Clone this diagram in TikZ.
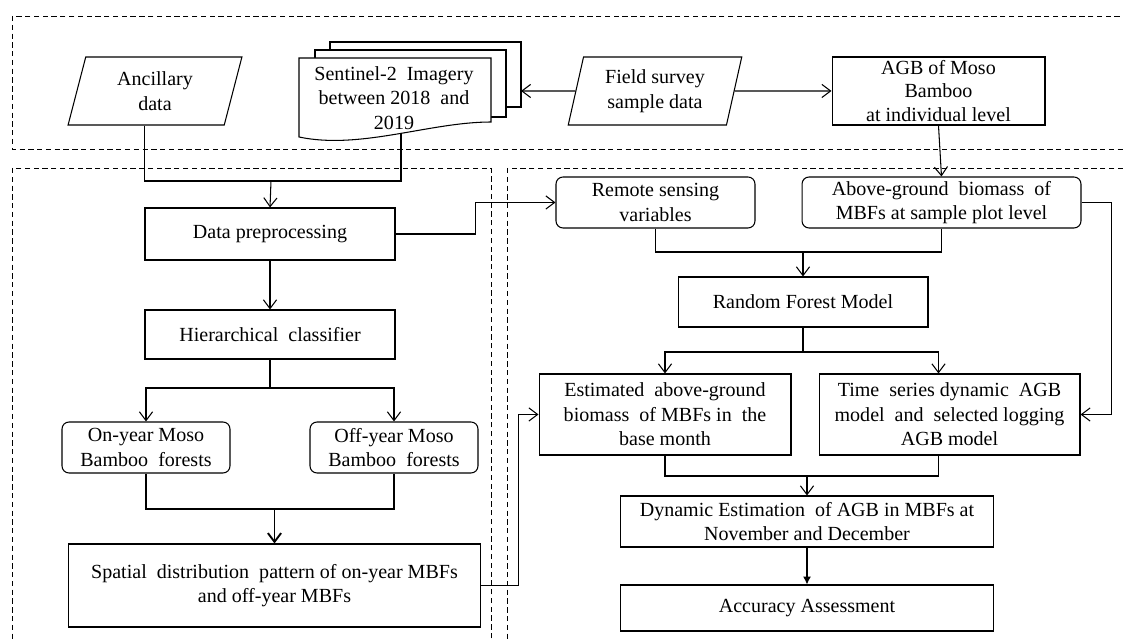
\documentclass[tikz,border=0pt]{standalone}
\usepackage{fontspec}
\setmainfont{Liberation Serif}
\usetikzlibrary{shapes.geometric,arrows.meta}

\begin{document}
\begin{tikzpicture}[x=0.02cm,y=-0.02cm,
  font=\fontsize{11.4}{14}\selectfont,
  line width=0.6pt,
  box/.style={draw,align=center,inner sep=0pt},
  rbox/.style={box,rounded corners=4pt},
  io/.style={draw,trapezium,trapezium left angle=76,trapezium right angle=104,
    trapezium stretches=true,align=center,inner sep=0pt},
  arr/.style={-{Straight Barb[length=5pt,width=7.5pt]}},
  zone/.style={dash pattern=on 3pt off 2pt,line width=0.5pt}]

  \useasboundingbox (0,0) rectangle (1123,641);

  % dashed zones
  \draw[zone] (12,16) rectangle (1140,149);
  \draw[zone] (12,168) rectangle (491,660);
  \draw[zone] (507,168) rectangle (1140,660);

  % stack of images
  \draw[fill=white] (330,42) rectangle (521,107);
  \draw[fill=white] (315,50) rectangle (506,117);
  \draw[fill=white] (299,58) -- (491,58) -- (491,122)
    .. controls (430,122) and (360,150) .. (299,137) -- cycle;
  \node[align=center] (sent) at (394,98) {Sentinel-2 \ Imagery\\between 2018 \ and\\2019};
  \coordinate (sentbot) at (401,134);
  \coordinate (sentrt) at (521,91);

  % top row
  \node[io,minimum width=3.48cm,minimum height=1.36cm] (anc) at (155,91) {Ancillary\\data};
  \node[io,minimum width=3.48cm,minimum height=1.36cm] (field) at (655,91) {Field survey\\sample data};
  \node[box,minimum width=4.26cm,minimum height=1.36cm,
    font=\fontsize{11.4}{13.5}\selectfont] (agb) at (938.5,91) {AGB of Moso\\Bamboo\\at individual level};

  % left part
  \node[box,minimum width=5cm,minimum height=1.04cm] (datap) at (270,234) {Data preprocessing};
  \node[box,minimum width=5cm,minimum height=0.98cm] (hier) at (270,334.5) {Hierarchical \ classifier};
  \node[rbox,minimum width=3.36cm,minimum height=1.02cm] (onyr) at (146,447.5) {On-year Moso\\Bamboo \ forests};
  \node[rbox,minimum width=3.36cm,minimum height=1.02cm] (offyr) at (394,447.5) {Off-year Moso\\Bamboo \ forests};
  \node[box,minimum width=8.26cm,minimum height=1.66cm] (spat) at (274.5,585.5)
    {Spatial \ distribution \ pattern of on-year MBFs\\and off-year MBFs};

  % right part
  \node[rbox,minimum width=3.98cm,minimum height=1.02cm] (remote) at (655.5,202.5) {Remote sensing\\variables};
  \node[rbox,minimum width=5.58cm,minimum height=1.02cm] (abvg) at (941.5,202.5) {Above-ground \ biomass \ of\\MBFs at sample plot level};
  \node[box,minimum width=5cm,minimum height=1cm] (rf) at (803,302) {Random Forest Model};
  \node[box,minimum width=5.04cm,minimum height=1.62cm] (est) at (665,414.5)
    {Estimated \ above-ground\\biomass \ of MBFs in \ the\\base month};
  \node[box,minimum width=5.22cm,minimum height=1.62cm] (tser) at (949.5,414.5)
    {Time \ series dynamic \ AGB\\model \ and \ selected logging\\AGB model};
  \node[box,minimum width=7.48cm,minimum height=1.02cm] (dyn) at (807,521.5)
    {Dynamic Estimation \ of AGB in MBFs at\\November and December};
  \node[box,minimum width=7.48cm,minimum height=0.92cm] (acc) at (807,608) {Accuracy Assessment};

  \coordinate (j1) at (271,181);
  \coordinate (j2) at (803,252);
  \coordinate (j3) at (803,352);
  \coordinate (j4) at (807,476);
  \coordinate (j5) at (270,388);
  \coordinate (j6) at (274.5,509);

  % connectors
  \draw (anc.south -| datap.west) |- (j1) -| (sentbot);
  \draw[arr] (j1) -- (datap.north);
  \draw[arr] (field.west) -- (sentrt);
  \draw[arr] (field.east) -- (agb.west);
  \draw[arr] (agb.south) -- (abvg.north);
  \draw[arr] (datap.east) -- ++(80,0) |- (remote.west);
  \draw[arr] (datap.south) -- (hier.north);
  \draw (hier.south) -- (j5);
  \draw[arr] (j5) -| (onyr.north);
  \draw[arr] (j5) -| (offyr.north);
  \draw (onyr.south) |- (j6) -| (offyr.south);
  \draw[arr,line width=1.1pt] (j6) -- (spat.north);
  \draw[arr] (spat.east) -- ++(37,0) |- (est.west);
  \draw (remote.south) |- (j2) -| (abvg.south);
  \draw[arr] (j2) -- (rf.north);
  \draw[line width=1.1pt] (rf.south) -- (j3);
  \draw[arr] (j3) -| (est.north);
  \draw[arr] (j3) -| (agb.south |- tser.north);
  \draw[arr] (abvg.east) -- ++(30,0) |- (tser.east);
  \draw (est.south) |- (j4) -| (agb.south |- tser.south);
  \draw[arr] (j4) -- (dyn.north);
  \draw[-{Latex[length=4.5pt,width=4.5pt]}] (dyn.south) -- (acc.north);
\end{tikzpicture}
\end{document}
